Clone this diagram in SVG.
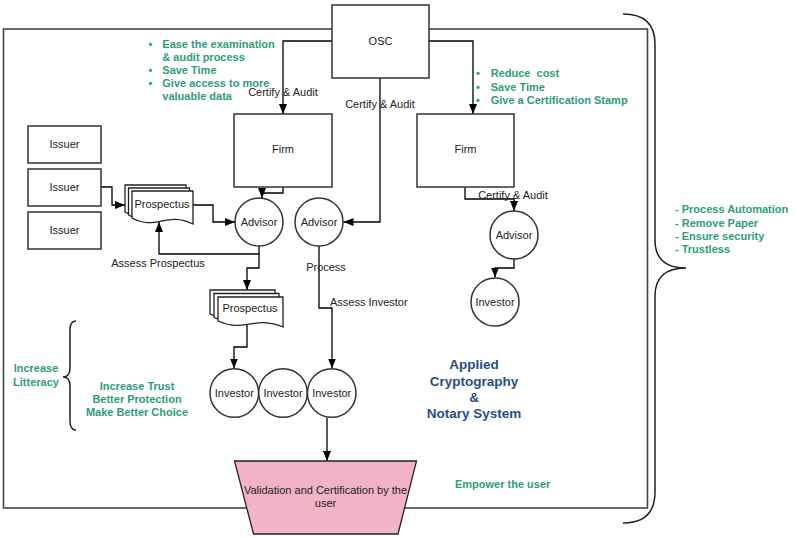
<svg xmlns="http://www.w3.org/2000/svg" width="797" height="538" viewBox="0 0 797 538">
<defs>
<marker id="ah" markerUnits="userSpaceOnUse" markerWidth="10" markerHeight="8" refX="10" refY="4" orient="auto">
<path d="M0,0 L10,4 L0,8 z" fill="#000"/>
</marker>
<style>
.box{fill:#fff;stroke:#333;stroke-width:1.5}
.doc{fill:#fff;stroke:#222;stroke-width:1.3}
.ln{fill:none;stroke:#000;stroke-width:1.3;marker-end:url(#ah)}
.br{fill:none;stroke:#222;stroke-width:1.5}
.t{font-family:"Liberation Sans",Arial,sans-serif;font-size:11px;fill:#222;text-anchor:middle}
.g{font-family:"Liberation Sans",Arial,sans-serif;font-size:11px;font-weight:bold;fill:#2e9c7d;white-space:pre}
.b{font-family:"Liberation Sans",Arial,sans-serif;font-size:13.5px;font-weight:bold;fill:#2a4c87;text-anchor:middle}
</style>
</defs>
<rect x="3.5" y="29" width="644" height="479" fill="none" stroke="#444" stroke-width="1.6"/>
<path class="br" d="M623,14 Q655,14 655,44 V240 Q655,268 686,268 Q655,268 655,296 V492 Q655,523 623,523"/>
<path class="br" d="M76,321 Q70,321 70,330 V368 Q70,377 63,377 Q70,377 70,386 V421 Q70,430 76,430"/>
<g id="connectors">
<path class="ln" d="M332,41 H283 V114"/>
<path class="ln" d="M429,41 H473 V114"/>
<path class="ln" d="M380,78 V222 H343.5"/>
<path class="ln" d="M283,187 V193 H262 V198"/>
<path class="ln" d="M465,187 V199 H514 V211"/>
<path class="ln" d="M514,259 V268 H495 V277.5"/>
<path class="ln" d="M101,187 H112 V205 H125"/>
<path class="ln" d="M193,205 H213 V222 H235"/>
<path class="ln" d="M259,246 V254 H159 V222"/>
<path class="ln" d="M259,254 V268 H247 V290"/>
<path class="ln" d="M247,325 V347 H234 V368.5"/>
<path class="ln" d="M319,246 V308 H332 V368.5"/>
<path class="ln" d="M327,418 V461"/>
<text class="t" x="283" y="96">Certify &amp; Audit</text>
<text class="t" x="380" y="108">Certify &amp; Audit</text>
<text class="t" x="513" y="199">Certify &amp; Audit</text>
<text class="t" x="158" y="267">Assess Prospectus</text>
<text class="t" x="326" y="271">Process</text>
<text class="t" x="330" y="306" text-anchor="start" style="text-anchor:start">Assess Investor</text>
</g>
<g id="osc"><rect class="box" x="332" y="5" width="97" height="73"/><text class="t" x="380.5" y="45">OSC</text></g>
<g id="firm1"><rect class="box" x="234" y="114" width="98" height="73"/><text class="t" x="283" y="153">Firm</text></g>
<g id="firm2"><rect class="box" x="417" y="114" width="97" height="73"/><text class="t" x="465.5" y="153">Firm</text></g>
<g id="issuer1"><rect class="box" x="28" y="126" width="73" height="37"/><text class="t" x="64.5" y="148">Issuer</text></g>
<g id="issuer2"><rect class="box" x="28" y="169" width="73" height="37"/><text class="t" x="64.5" y="191">Issuer</text></g>
<g id="issuer3"><rect class="box" x="28" y="212" width="73" height="37"/><text class="t" x="64.5" y="234">Issuer</text></g>
<g id="prospectus1">
<path class="doc" d="M125,185 H186 V218 C159,205 149,225 125,212 Z"/>
<path class="doc" d="M128.5,188 H189.5 V221 C162,208 152,228 128.5,215 Z"/>
<path class="doc" d="M132,191 H193 V224 C166,211 156,231 132,218 Z"/>
<text class="t" x="162" y="208">Prospectus</text>
</g>
<g id="prospectus2">
<path class="doc" d="M210,290 H275 V320 C246,308 236,326 210,314 Z"/>
<path class="doc" d="M214,293.5 H279 V323.5 C250,311.5 240,329.5 214,317.5 Z"/>
<path class="doc" d="M218,297 H283 V327 C254,315 244,333 218,321 Z"/>
<text class="t" x="250" y="312">Prospectus</text>
</g>
<g id="advisor1"><circle class="box" cx="259" cy="222" r="24"/><text class="t" x="259" y="226">Advisor</text></g>
<g id="advisor2"><circle class="box" cx="319" cy="222" r="24"/><text class="t" x="319" y="226">Advisor</text></g>
<g id="advisor3"><circle class="box" cx="514" cy="235" r="24"/><text class="t" x="514" y="239">Advisor</text></g>
<g id="investor-right"><circle class="box" cx="495" cy="302" r="24"/><text class="t" x="495" y="306">Investor</text></g>
<g id="investor1"><circle class="box" cx="234.3" cy="393" r="24.3"/><text class="t" x="234.3" y="397">Investor</text></g>
<g id="investor2"><circle class="box" cx="283" cy="393" r="24.3"/><text class="t" x="283" y="397">Investor</text></g>
<g id="investor3"><circle class="box" cx="331.7" cy="393" r="24.3"/><text class="t" x="331.7" y="397">Investor</text></g>
<g id="validation">
<path d="M234.5,461 H416.5 L398,534 H253.5 Z" fill="#f3b3c6" stroke="#222" stroke-width="1.3"/>
<text class="t" x="325.5" y="494">Validation and Certification by the</text>
<text class="t" x="325.5" y="507">user</text>
</g>
<g id="notes">
<text class="g" x="148.5" y="47.7">•</text><text class="g" x="162.3" y="47.7">Ease the examination</text>
<text class="g" x="162.3" y="60.7">&amp; audit process</text>
<text class="g" x="148.5" y="74">•</text><text class="g" x="162.3" y="74">Save Time</text>
<text class="g" x="148.5" y="87">•</text><text class="g" x="162.3" y="87">Give access to more</text>
<text class="g" x="162.3" y="100.3">valuable data</text>
<text class="g" x="476" y="77.3">•</text><text class="g" x="490.7" y="77.3">Reduce  cost</text>
<text class="g" x="476" y="90.7">•</text><text class="g" x="490.7" y="90.7">Save Time</text>
<text class="g" x="476" y="104">•</text><text class="g" x="490.7" y="104">Give a Certification Stamp</text>
<text class="g" x="675" y="213.3">- Process Automation</text>
<text class="g" x="675" y="226.7">- Remove Paper</text>
<text class="g" x="675" y="239.7">- Ensure security</text>
<text class="g" x="675" y="252.7">- Trustless</text>
<text class="g" x="36" y="372.3" text-anchor="middle">Increase</text>
<text class="g" x="36" y="385.7" text-anchor="middle">Litteracy</text>
<text class="g" x="137" y="389.7" text-anchor="middle">Increase Trust</text>
<text class="g" x="137" y="403" text-anchor="middle">Better Protection</text>
<text class="g" x="137" y="415.7" text-anchor="middle">Make Better Choice</text>
<text class="g" x="455" y="488">Empower the user</text>
<text class="b" x="474" y="369">Applied</text>
<text class="b" x="474" y="385.5">Cryptography</text>
<text class="b" x="474" y="402">&amp;</text>
<text class="b" x="474" y="418">Notary System</text>
</g>
</svg>
